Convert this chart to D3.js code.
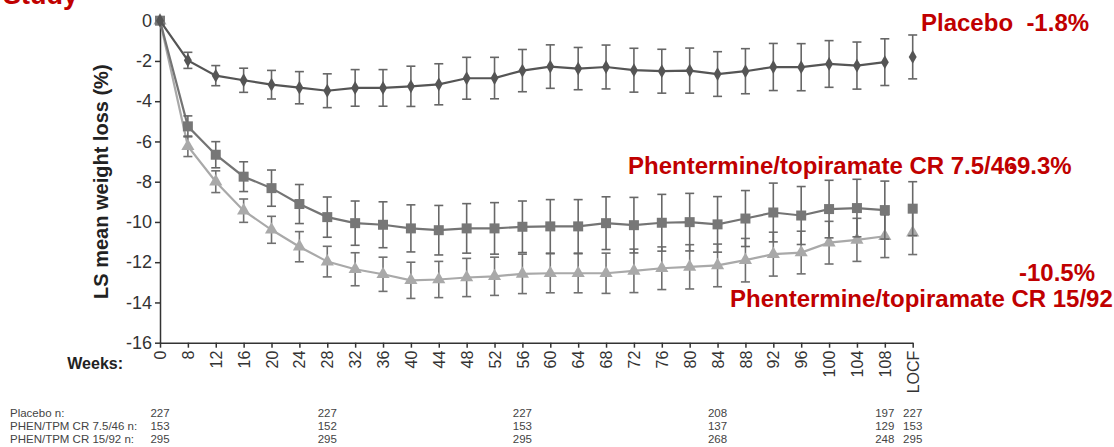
<!DOCTYPE html>
<html><head><meta charset="utf-8">
<script src="https://cdn.jsdelivr.net/npm/d3@7"></script>
<style>
body{margin:0;background:#fff;}
svg{display:block;font-family:"Liberation Sans",Arial,sans-serif;}
</style>
</head><body>
<svg id="chart" width="1114" height="447"></svg>
<script>
// ---- data ----
const weeks = ["0","8","12","16","20","24","28","32","36","40","44","48","52","56","60","64","68","72","76","80","84","88","92","96","100","104","108","LOCF"];
const yTicks = [0,-2,-4,-6,-8,-10,-12,-14,-16];

const placebo    = [0,-1.97,-2.73,-2.96,-3.18,-3.33,-3.48,-3.34,-3.34,-3.26,-3.16,-2.86,-2.85,-2.48,-2.28,-2.38,-2.30,-2.46,-2.51,-2.48,-2.65,-2.51,-2.30,-2.31,-2.15,-2.23,-2.06,-1.8];
const placeboErr = [0,0.40,0.50,0.60,0.71,0.80,0.84,0.91,0.91,1.00,1.02,1.04,1.03,1.05,1.08,1.05,1.09,1.09,1.09,1.12,1.11,1.12,1.17,1.17,1.16,1.17,1.16,1.09];

const mid    = [0,-5.25,-6.66,-7.75,-8.32,-9.11,-9.76,-10.06,-10.14,-10.32,-10.41,-10.32,-10.32,-10.24,-10.22,-10.22,-10.06,-10.16,-10.04,-10.01,-10.12,-9.83,-9.53,-9.68,-9.36,-9.31,-9.41,-9.34];
const midErr = [0,0.52,0.65,0.74,0.90,0.97,1.00,1.10,1.14,1.17,1.23,1.23,1.28,1.28,1.33,1.33,1.31,1.38,1.41,1.43,1.38,1.39,1.46,1.44,1.43,1.43,1.44,1.34];

const high    = [0,-6.24,-8.00,-9.44,-10.39,-11.23,-11.97,-12.35,-12.60,-12.90,-12.86,-12.76,-12.70,-12.58,-12.55,-12.55,-12.55,-12.43,-12.30,-12.23,-12.16,-11.90,-11.60,-11.52,-11.03,-10.89,-10.71,-10.54];
const highErr = [0,0.51,0.54,0.58,0.67,0.75,0.76,0.82,0.85,0.90,0.90,0.95,0.95,0.98,0.97,0.97,1.00,1.08,1.06,1.10,1.06,1.08,1.09,1.06,1.06,1.07,1.06,1.08];

const nWeeks    = ["0","28","56","84","108","LOCF"];
const nRowNames = ["Placebo n:","PHEN/TPM CR 7.5/46 n:","PHEN/TPM CR 15/92 n:"];
const placeboN  = [227,227,227,208,197,227];
const midN      = [153,152,153,137,129,153];
const highN     = [295,295,295,268,248,295];

// ---- drawing ----
const svg = d3.select("#chart");
const x = d3.scalePoint().domain(weeks).range([160, 912.7]);
const y = d3.scaleLinear().domain([-16, 0]).range([342.7, 20.7]);

// y axis
const yAx = svg.append("g").attr("transform","translate(160,0)")
  .call(d3.axisLeft(y).tickValues(yTicks).tickSize(5).tickSizeOuter(0).tickFormat(d => String(d)));
yAx.select(".domain").attr("stroke","#333").attr("stroke-width",1.5);
yAx.selectAll(".tick line").attr("stroke","#333").attr("stroke-width",1.5);
yAx.selectAll(".tick text").attr("font-size",18).attr("fill","#333").attr("x",-8)
  .attr("font-family","'Liberation Sans',Arial,sans-serif");

// x axis
const xAx = svg.append("g").attr("transform","translate(0,342.7)")
  .call(d3.axisBottom(x).tickSize(5).tickSizeOuter(0));
xAx.select(".domain").attr("stroke","#333").attr("stroke-width",1.5);
xAx.selectAll(".tick line").attr("stroke","#333").attr("stroke-width",1.5);
xAx.selectAll(".tick text").attr("font-size",16).attr("fill","#333")
  .attr("font-family","'Liberation Sans',Arial,sans-serif")
  .attr("transform","rotate(-90)").attr("x",-8).attr("y",0).attr("dy","0.35em")
  .attr("text-anchor","end");

// series
const series = [
  {vals: high, err: highErr, line:"#a9a9a9", mark:"#a9a9a9", bar:"#707070", sym:d3.symbolTriangle, size:75},
  {vals: mid, err: midErr, line:"#747474", mark:"#777777", bar:"#686868", sym:d3.symbolSquare, size:100},
  {vals: placebo, err: placeboErr, line:"#555555", mark:"#555555", bar:"#666666", sym:d3.symbolDiamond, size:55}
];

series.forEach(s => {
  const pts = weeks.map((w,i) => ({w, v:s.vals[i], e:s.err[i], i}));
  const linePts = pts.filter(p => p.w !== "LOCF");
  svg.append("path").datum(linePts)
    .attr("fill","none").attr("stroke",s.line).attr("stroke-width",2.2)
    .attr("d", d3.line().x(p => x(p.w)).y(p => y(p.v)));
  const eb = svg.append("g").selectAll("g").data(pts.filter(p => p.e > 0)).join("g")
    .attr("stroke", s.bar).attr("stroke-width",1.6).attr("fill","none");
  eb.append("line").attr("x1",p=>x(p.w)).attr("x2",p=>x(p.w))
    .attr("y1",p=>y(p.v+p.e)).attr("y2",p=>y(p.v-p.e));
  eb.append("line").attr("x1",p=>x(p.w)-4.5).attr("x2",p=>x(p.w)+4.5)
    .attr("y1",p=>y(p.v+p.e)).attr("y2",p=>y(p.v+p.e));
  eb.append("line").attr("x1",p=>x(p.w)-4.5).attr("x2",p=>x(p.w)+4.5)
    .attr("y1",p=>y(p.v-p.e)).attr("y2",p=>y(p.v-p.e));
  svg.append("g").selectAll("path").data(pts).join("path")
    .attr("transform", p => `translate(${x(p.w)},${y(p.v)})`)
    .attr("d", d3.symbol().type(s.sym).size(s.size))
    .attr("fill", s.mark);
});

// axis titles
svg.append("text").attr("transform","translate(101,181.7) rotate(-90)")
  .attr("text-anchor","middle").attr("dominant-baseline","central")
  .attr("font-size",20).attr("font-weight","bold").attr("fill","#222")
  .text("LS mean weight loss (%)");
svg.append("text").attr("x",123).attr("y",369).attr("text-anchor","end")
  .attr("font-size",16).attr("font-weight","bold").attr("fill","#222").text("Weeks:");

// red annotations
const red = "#c00000";
function redText(tx, ty, str, size){
  svg.append("text").attr("x",tx).attr("y",ty).attr("font-size",size||24)
    .attr("font-weight","bold").attr("fill",red).style("white-space","pre").text(str);
}
redText(3, 4, "Study", 27);
redText(921, 31, "Placebo\u00A0\u00A0-1.8%");
redText(628, 174, "Phentermine/topiramate CR 7.5/46");
redText(1009, 174, "-9.3%");
redText(1019, 281, "-10.5%");
redText(730, 307, "Phentermine/topiramate CR 15/92");

// n table
const nRows = [placeboN, midN, highN];
const rowY = [417, 430, 443];
nRows.forEach((row, r) => {
  svg.append("text").attr("x",10).attr("y",rowY[r]).attr("font-size",11.5).attr("fill","#444").text(nRowNames[r]);
  svg.append("g").selectAll("text").data(row).join("text")
    .attr("x",(d,i)=>x(nWeeks[i])).attr("y",rowY[r]).attr("text-anchor","middle")
    .attr("font-size",11.5).attr("fill","#444").text(d=>d);
});
</script>
</body></html>
